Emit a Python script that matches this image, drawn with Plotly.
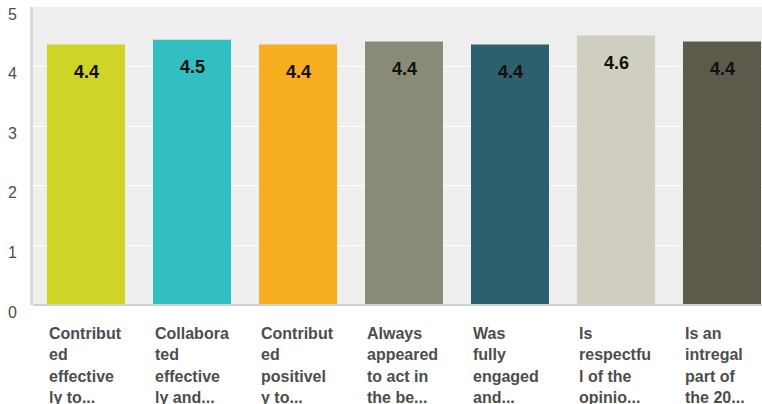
import plotly.graph_objects as go

categories = [
    "Contribut<br>ed<br>effective<br>ly to...",
    "Collabora<br>ted<br>effective<br>ly and...",
    "Contribut<br>ed<br>positivel<br>y to...",
    "Always<br>appeared<br>to act in<br>the be...",
    "Was<br>fully<br>engaged<br>and...",
    "Is<br>respectfu<br>l of the<br>opinio...",
    "Is an<br>intregal<br>part of<br>the 20...",
]
values = [4.37, 4.45, 4.37, 4.42, 4.37, 4.52, 4.42]
value_labels = ["4.4", "4.5", "4.4", "4.4", "4.4", "4.6", "4.4"]
colors = ["#CFD427", "#33BEC1", "#F6AE1F", "#8A8A79", "#2E5F6D", "#D0CEC0", "#5C5A4B"]
y_ticks = [0, 1, 2, 3, 4, 5]

xs = list(range(len(categories)))
BAR_W = 0.736

fig = go.Figure()
fig.add_trace(go.Bar(
    x=xs, y=values, width=BAR_W,
    marker=dict(color=colors, line=dict(width=0)),
    hoverinfo="skip",
))

annotations = []
for i, (v, lab) in enumerate(zip(values, value_labels)):
    annotations.append(dict(
        x=i, y=v, xref="x", yref="y", text=f"<b>{lab}</b>", showarrow=False,
        yanchor="middle", xanchor="center", yshift=-27,
        font=dict(family="Liberation Sans, Arial", size=18, color="#111111"),
    ))

PLOT_TOP, PLOT_BOT = 7, 305
H = PLOT_BOT - PLOT_TOP
line_centers = [333, 354.5, 376, 397]
for i, cat in enumerate(categories):
    for j, line in enumerate(cat.split("<br>")):
        annotations.append(dict(
            x=i - BAR_W / 2, xref="x", xanchor="left",
            y=(PLOT_BOT - line_centers[j]) / H, yref="paper", yanchor="middle",
            text=f"<b>{line}</b>", showarrow=False, align="left",
            font=dict(family="Liberation Sans, Arial", size=16, color="#4D4D4D"),
        ))

fig.update_layout(
    width=762, height=404,
    margin=dict(l=33, r=0, t=PLOT_TOP, b=404 - PLOT_BOT, pad=0),
    paper_bgcolor="white", plot_bgcolor="#EFEFEF",
    showlegend=False,
    annotations=annotations,
    xaxis=dict(range=[-0.5, 6.5 - 13 / 106], showticklabels=False, showgrid=False,
               zeroline=False, showline=False, fixedrange=True),
    yaxis=dict(range=[0, 5], tickvals=y_ticks, showgrid=True, gridcolor="white", gridwidth=1,
               zeroline=False, showline=True, linecolor="#DADADA", linewidth=3,
               ticks="", ticklabelstandoff=10, ticklabelshift=7, fixedrange=True,
               tickfont=dict(family="Liberation Sans, Arial", size=16, color="#4D4D4D")),
    font=dict(family="Liberation Sans, Arial"),
)
fig.add_shape(type="line", xref="paper", yref="paper", x0=0, x1=1, y0=0, y1=0,
              line=dict(color="#D0D0D0", width=2))

fig.write_html("out.html", config={"displayModeBar": False},
               post_script="document.body.style.margin='0';document.body.style.overflow='hidden';")
